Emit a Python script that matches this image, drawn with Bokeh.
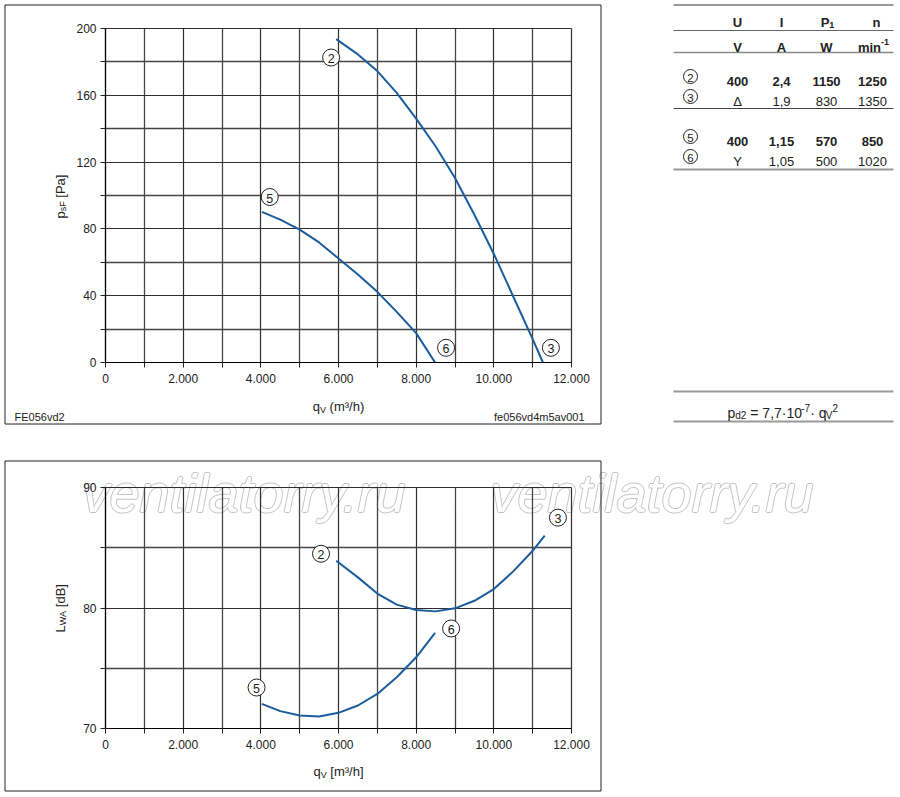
import math
from bokeh.plotting import figure
from bokeh.models import Range1d, FixedTicker, Label, Grid
from bokeh.layouts import column
from bokeh.embed import file_html
from bokeh.resources import INLINE
from bokeh.core.properties import value

FONT = "Liberation Sans"

# ---------------- data ----------------
q_23 = [5940, 6500, 7000, 7500, 8000, 8500, 9000, 9500, 10000, 10500, 11000, 11265]
psf_23 = [193.6, 184.5, 174.5, 161.5, 146, 129.5, 110.5, 88.5, 65, 39.5, 14, 0]
q_56 = [4026, 4500, 5000, 5500, 6000, 6500, 7000, 7500, 8000, 8487]
psf_56 = [90.2, 85.6, 79.6, 71.9, 62.3, 52.7, 42.3, 30.3, 17.6, 0]

q_lwa_23 = [5941, 6500, 7000, 7500, 8000, 8500, 9000, 9500, 10000, 10500, 11000, 11310]
lwa_23 = [83.92, 82.54, 81.2, 80.28, 79.83, 79.72, 79.97, 80.6, 81.57, 83.04, 84.75, 86.0]
q_lwa_56 = [4026, 4500, 5000, 5500, 6000, 6500, 7000, 7500, 8000, 8487]
lwa_56 = [72.04, 71.44, 71.08, 70.99, 71.3, 71.91, 72.87, 74.25, 75.91, 77.93]

x_ticks = [0, 2000, 4000, 6000, 8000, 10000, 12000]
x_tick_labels = ["0", "2.000", "4.000", "6.000", "8.000", "10.000", "12.000"]
psf_ticks = [0, 40, 80, 120, 160, 200]
lwa_ticks = [70, 80, 90]

curve_ids = ["2", "3", "5", "6"]
tag_q_top = [5810, 11470, 4230, 8770]
tag_p_top = [182.6, 8.8, 99.1, 8.8]
tag_q_bot = [5550, 11650, 3890, 8900]
tag_l_bot = [84.5, 87.5, 73.4, 78.3]

U_vals = ["400", "Δ", "400", "Y"]
I_vals = ["2,4", "1,9", "1,15", "1,05"]
P1_vals = ["1150", "830", "570", "500"]
n_vals = ["1250", "1350", "850", "1020"]
row_bold = [True, False, True, False]

watermark = "ventilatorry.ru"

BLUE = "#1b5c9c"
GRID_MAJ = "#2e2e2e"
GRID_MIN = "#444444"
TXT = "#222222"

RW = {' ': .278, '.': .278, ',': .278, '(': .333, ')': .333, '[': .278, ']': .278, '/': .278,
      '=': .584, '·': .278, '-': .333, '³': .333, '²': .333, 'a': .556, 'b': .556, 'c': .5,
      'd': .556, 'e': .556, 'f': .278, 'h': .556, 'i': .222, 'l': .222, 'm': .833, 'n': .556,
      'o': .556, 'p': .556, 'q': .556, 'r': .333, 's': .5, 't': .278, 'u': .556, 'v': .5,
      'y': .5, 'A': .667, 'B': .667, 'F': .611, 'L': .556, 'P': .667, 'V': .667, 'W': .944,
      'Y': .667, 'U': .722, 'I': .278, 'Δ': .612}
BW = dict(RW)
BW.update({'A': .722, 'U': .722, 'm': .889, 'i': .278, 'n': .611, 'P': .667, 'W': .944})


def tw(s, size, bold=False):
    d = BW if bold else RW
    return sum(d.get(ch, .556) for ch in s) * size


# page-pixel -> data mappings (plot area: x 105..571 px, top chart y 28..362, bottom y 487..728)
def Xp(px):
    return (px - 105) / 466 * 12000


def Yt(py):
    return (362 - py) / 334 * 200


def Yb(py):
    return 90 - (py - 487) / 241 * 20


def make_fig(W, H, px0, px1, ylo_d, yhi_d):
    p = figure(width=W, height=H, x_range=Range1d(Xp(px0), Xp(px1)),
               y_range=Range1d(ylo_d, yhi_d), output_backend="svg",
               toolbar_location=None, title=None, min_border=0)
    p.background_fill_color = "white"
    p.border_fill_color = "white"
    p.outline_line_color = None
    return p


def setup_axes(p, yticks, yminor, ylo, yhi):
    x_minor = [t + 1000 for t in x_ticks[:-1]]
    xt = FixedTicker(ticks=x_ticks, minor_ticks=x_minor)
    yt = FixedTicker(ticks=yticks, minor_ticks=yminor)
    p.xaxis.ticker = xt
    p.yaxis.ticker = yt
    p.xaxis.fixed_location = ylo
    p.xaxis.bounds = (0, 12000)
    p.yaxis.fixed_location = 0
    p.yaxis.bounds = (ylo, yhi)
    p.xaxis.major_label_overrides = {t: l for t, l in zip(x_ticks, x_tick_labels)}
    for ax in (p.xaxis, p.yaxis):
        ax.major_tick_out = 5
        ax.major_tick_in = 0
        ax.minor_tick_out = 5
        ax.minor_tick_in = 0
        ax.axis_line_color = "black"
        ax.axis_line_width = 1.2
        ax.major_tick_line_color = TXT
        ax.minor_tick_line_color = TXT
        ax.major_label_text_font = FONT
        ax.major_label_text_font_size = "12px"
        ax.major_label_text_color = TXT
    p.xaxis.major_label_standoff = 6
    p.yaxis.major_label_standoff = 4
    if "cross_bounds" in Grid.properties():
        p.xgrid.ticker = xt
        p.ygrid.ticker = yt
        p.xgrid.bounds = (0, 12000)
        p.ygrid.bounds = (ylo, yhi)
        p.xgrid.cross_bounds = (ylo, yhi)
        p.ygrid.cross_bounds = (0, 12000)
        for g in (p.xgrid, p.ygrid):
            g.grid_line_color = GRID_MAJ
            g.grid_line_width = 1.2
            g.minor_grid_line_color = GRID_MIN
            g.minor_grid_line_width = 1.3
    else:
        p.xgrid.visible = False
        p.ygrid.visible = False
        for xs, col, w in [(x_minor, GRID_MIN, 1.3), (x_ticks, GRID_MAJ, 1.2)]:
            p.segment(x0=xs, x1=xs, y0=[ylo] * len(xs), y1=[yhi] * len(xs),
                      line_color=col, line_width=w)
        for ys, col, w in [(yminor, GRID_MIN, 1.3), (yticks, GRID_MAJ, 1.2)]:
            p.segment(x0=[0] * len(ys), x1=[12000] * len(ys), y0=ys, y1=ys,
                      line_color=col, line_width=w)


def add_label(p, x, y, text, size, angle=0, align="left", baseline="alphabetic",
              color=TXT, style="normal", xo=0, yo=0, level="annotation"):
    p.add_layout(Label(x=x, y=y, text=text, angle=angle, text_align=align,
                       text_baseline=baseline, text_font=FONT,
                       text_font_size=f"{size}px", text_color=color,
                       text_font_style=style, x_offset=xo, y_offset=yo, level=level))


def rich_h(p, Y, parts, x_start, base, bold=False, center=False):
    total = sum(tw(t, s, bold) for t, s, d in parts)
    x = x_start - total / 2 if center else x_start
    for t, s, d in parts:
        lead = len(t) - len(t.lstrip(" "))
        x += tw(" " * lead, s, bold)
        t2 = t.strip(" ")
        add_label(p, Xp(x), Y(base + d), t2, s, style="bold" if bold else "normal")
        x += tw(t2, s, bold)


def rich_v(p, Y, parts, start_y, base_x):
    y = start_y
    for t, s, d in parts:
        lead = len(t) - len(t.lstrip(" "))
        y -= tw(" " * lead, s)
        t2 = t.strip(" ")
        add_label(p, Xp(base_x + d), Y(y), t2, s, angle=math.pi / 2)
        y -= tw(t2, s)


def tags(p, xs, ys):
    p.scatter(xs, ys, marker="circle", size=17, fill_color="white", line_color=TXT, line_width=1)
    p.text(xs, ys, text=curve_ids, text_align="center", text_baseline="middle",
           text_font=value(FONT), text_font_size="12.5px", text_color=TXT, y_offset=1)


def add_watermark(p, x, y, size=54):
    for dx, dy in [(-1, 0), (1, 0), (0, -1), (0, 1)]:
        add_label(p, x, y, watermark, size, color="#c4c4c4", style="italic", xo=dx, yo=dy,
                  level="image")
    add_label(p, x, y, watermark, size, color="white", style="italic", level="image")


# ======================= TOP figure: pressure chart + table =======================
top = make_fig(898, 426, 0, 898, Yt(426), Yt(0))
setup_axes(top, psf_ticks, [t + 20 for t in psf_ticks[:-1]], 0, 200)
top.quad(left=[Xp(4.5)], right=[Xp(600.5)], top=[Yt(4.5)], bottom=[Yt(423.5)],
         fill_color=None, line_color=TXT, line_width=1)
top.line(q_23, psf_23, line_color=BLUE, line_width=2, line_join="round")
top.line(q_56, psf_56, line_color=BLUE, line_width=2, line_join="round")
tags(top, tag_q_top, tag_p_top)

rich_h(top, Yt, [("q", 13, 0), ("V", 9, 3), (" (m³/h)", 13, 0)], 338, 406, center=True)
rich_v(top, Yt, [("p", 13, 0), ("sF", 9, 2), (" [Pa]", 13, 0)], 218, 60)
add_label(top, Xp(14), Yt(416), "FE056vd2", 11)
add_label(top, Xp(584), Yt(416), "fe056vd4m5av001", 11, align="right")

# table rules
rule_y = [4.5, 30, 52, 108, 169, 391, 421]
rule_c = ["#9a9a9a", "#666666", "#8a8a8a", "#444444", "#9a9a9a", "#9a9a9a", "#9a9a9a"]
rule_w = [2, 1, 1.5, 1, 2, 2, 2]
top.segment(x0=[Xp(673)] * len(rule_y), x1=[Xp(893)] * len(rule_y),
            y0=[Yt(v) for v in rule_y], y1=[Yt(v) for v in rule_y],
            line_color=rule_c, line_width=rule_w)

col_x = [737, 781, 826, 872]
FS = 13
hdr_base = 17 + 4.7
unit_base = 42 + 4.7
add_label(top, Xp(col_x[0]), Yt(hdr_base), "U", FS, align="center", style="bold")
add_label(top, Xp(col_x[1]), Yt(hdr_base), "I", FS, align="center", style="bold")
rich_h(top, Yt, [("P", FS, 0), ("1", 9, 3)], col_x[2] + 1, hdr_base, bold=True, center=True)
add_label(top, Xp(col_x[3] + 4), Yt(hdr_base), "n", FS, align="center", style="bold")
add_label(top, Xp(col_x[0]), Yt(unit_base), "V", FS, align="center", style="bold")
add_label(top, Xp(col_x[1]), Yt(unit_base), "A", FS, align="center", style="bold")
add_label(top, Xp(col_x[2]), Yt(unit_base), "W", FS, align="center", style="bold")
rich_h(top, Yt, [("min", FS, 0), ("-1", 9, -5)], col_x[3] + 1, unit_base, bold=True, center=True)

row_y = [76, 96, 136, 156]
for i, ry in enumerate(row_y):
    st = "bold" if row_bold[i] else "normal"
    for cx, vals in zip(col_x, [U_vals, I_vals, P1_vals, n_vals]):
        add_label(top, Xp(cx), Yt(ry + 4.7), vals[i], FS, align="center", style=st)

top.scatter([Xp(690)] * 4, [Yt(v) for v in row_y], marker="circle", size=14,
            fill_color="white", line_color=TXT, line_width=1)
top.text([Xp(690)] * 4, [Yt(v) for v in row_y], text=curve_ids, text_align="center",
         text_baseline="middle", text_font=value(FONT), text_font_size="11.5px",
         text_color=TXT, y_offset=1)

# formula p_d2 = 7,7·10^-7 · q_V^2
fx = 727
for t, s, d in [("p", 14, 0), ("d2", 10, 3)]:
    add_label(top, Xp(fx), Yt(412 + d), t, s)
    fx += tw(t, s)
fx += tw(" ", 14)
add_label(top, Xp(fx), Yt(412), "= 7,7·10", 14)
fx += tw("= 7,7·10", 14)
add_label(top, Xp(fx), Yt(407), "-7", 10)
fx += tw("-7", 10)
add_label(top, Xp(fx), Yt(412), "· q", 14)
fx += tw("· q", 14)
add_label(top, Xp(fx), Yt(415), "V", 10)
fx += tw("V", 10)
add_label(top, Xp(fx), Yt(407), "2", 10)

# ======================= BOTTOM figure: sound power chart =======================
bot = make_fig(898, 370, 0, 898, Yb(796), Yb(426))
setup_axes(bot, lwa_ticks, [75, 85], 70, 90)
bot.quad(left=[Xp(4.5)], right=[Xp(600.5)], top=[Yb(460.5)], bottom=[Yb(790.5)],
         fill_color=None, line_color=TXT, line_width=1)
add_watermark(bot, Xp(82), Yb(492))
add_watermark(bot, Xp(490), Yb(492))
bot.line(q_lwa_23, lwa_23, line_color=BLUE, line_width=2, line_join="round")
bot.line(q_lwa_56, lwa_56, line_color=BLUE, line_width=2, line_join="round")
tags(bot, tag_q_bot, tag_l_bot)

rich_h(bot, Yb, [("q", 13, 0), ("V", 9, 3), (" [m³/h]", 13, 0)], 338, 771, center=True)
rich_v(bot, Yb, [("L", 13, 0), ("WA", 9, 2), (" [dB]", 13, 0)], 632, 60)

layout = column(top, bot)

open("out.html", "w").write(file_html(layout, INLINE))
